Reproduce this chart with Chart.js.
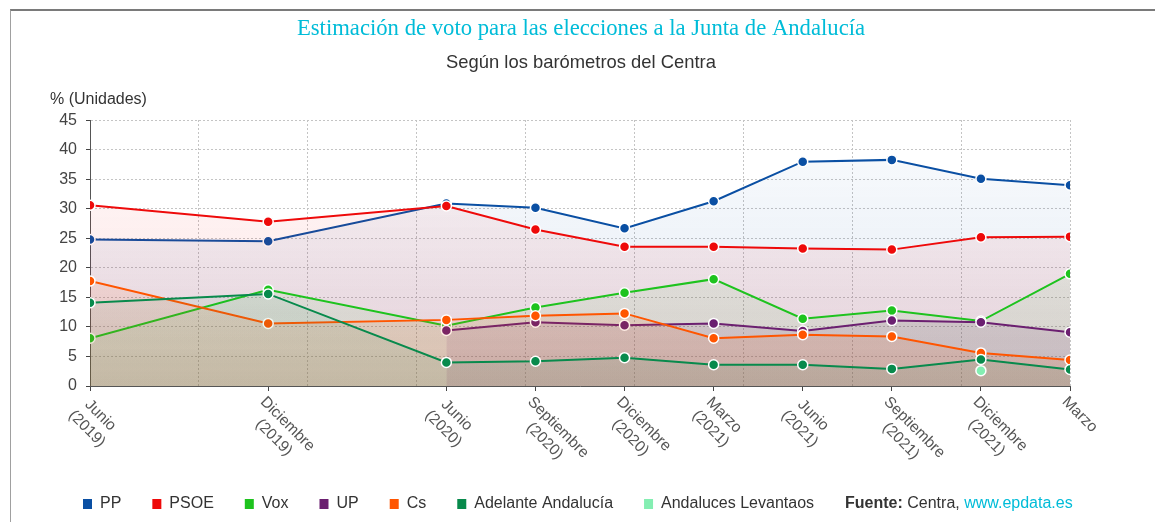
<!DOCTYPE html>
<html lang="es">
<head>
<meta charset="utf-8">
<title>Estimación de voto - Junta de Andalucía</title>
<script src="https://cdn.jsdelivr.net/npm/chart.js@4.4.1/dist/chart.umd.min.js"></script>
<style>
  html, body { margin: 0; padding: 0; background: #fff; overflow: hidden; }
  #marco { position: absolute; left: 10px; top: 9px; width: 1200px; height: 600px;
           border-top: 2px solid #7a7a7a; border-left: 1px solid #a0a0a0; }
  #contenedor { position: absolute; left: 0; top: 0; width: 1155px; height: 522px; }
</style>
</head>
<body>
<div id="marco"></div>
<div id="contenedor"><canvas id="graficoVoto"></canvas></div>
<script>
// Meses transcurridos desde junio de 2019 en cada barómetro
const meses = [0, 6, 12, 15, 18, 21, 24, 27, 30, 33];
const etiquetas = [
    ['Junio', '(2019)'], ['Diciembre', '(2019)'], ['Junio', '(2020)'], ['Septiembre', '(2020)'],
    ['Diciembre', '(2020)'], ['Marzo', '(2021)'], ['Junio', '(2021)'], ['Septiembre', '(2021)'],
    ['Diciembre', '(2021)'], ['Marzo']
];
const marcasY = [0, 5, 10, 15, 20, 25, 30, 35, 40, 45];

// Estimación de voto (%) por partido
const pp      = [24.8, 24.5, 30.9, 30.2, 26.7, 31.3, 38.0, 38.3, 35.1, 34.0];
const psoe    = [30.6, 27.8, 30.5, 26.5, 23.6, 23.6, 23.3, 23.1, 25.2, 25.3];
const vox     = [8.1, 16.3, 10.2, 13.3, 15.8, 18.1, 11.4, 12.8, 11.0, 19.0];
const up      = [null, null, 9.4, 10.8, 10.3, 10.6, 9.3, 11.1, 10.8, 9.1];
const cs      = [17.8, 10.6, 11.2, 11.9, 12.3, 8.1, 8.7, 8.4, 5.6, 4.4];
const adelante = [14.1, 15.6, 4.0, 4.2, 4.8, 3.6, 3.6, 2.9, 4.5, 2.8];
const levantaos = [null, null, null, null, null, null, null, null, 2.6, null];

const fuenteTexto = 'Arial, "Liberation Sans", sans-serif';

// Relleno degradado bajo cada línea (casi transparente arriba)
function degradado(r, g, b, alfa) {
    return function (context) {
        const area = context.chart.chartArea;
        if (!area) return 'transparent';
        const grad = context.chart.ctx.createLinearGradient(0, area.top, 0, area.bottom);
        grad.addColorStop(0, `rgba(${r},${g},${b},0.02)`);
        grad.addColorStop(1, `rgba(${r},${g},${b},${alfa})`);
        return grad;
    };
}

function serie(nombre, valores, color, rgb, orden, alfa) {
    return {
        label: nombre,
        data: meses.map((m, i) => ({ x: m, y: valores[i] })),
        borderColor: color,
        backgroundColor: alfa ? degradado(...rgb, alfa) : 'transparent',
        fill: alfa ? 'origin' : false,
        pointBackgroundColor: color,
        pointBorderColor: '#fff',
        pointBorderWidth: 1.5,
        pointRadius: 5,
        borderWidth: 2,
        order: orden
    };
}

// Etiquetas del eje X giradas 45 grados (como en el original)
const etiquetasEjeX = {
    id: 'etiquetasEjeX',
    afterDraw(chart) {
        const { ctx, scales: { x } } = chart;
        ctx.save();
        ctx.font = '15.5px ' + fuenteTexto;
        ctx.fillStyle = '#555';
        ctx.textBaseline = 'top';
        ctx.textAlign = 'center';
        meses.forEach((m, i) => {
            const lineas = etiquetas[i];
            const ancho = Math.max(...lineas.map(t => ctx.measureText(t).width));
            ctx.save();
            ctx.translate(x.getPixelForValue(m), x.top + 8);
            ctx.rotate(Math.PI / 4);
            lineas.forEach((t, j) => ctx.fillText(t, ancho / 2, j * 19));
            ctx.restore();
        });
        ctx.restore();
    }
};

// Leyenda inferior + fuente, y título del eje Y
const leyendaYFuente = {
    id: 'leyendaYFuente',
    afterDraw(chart) {
        const { ctx, chartArea } = chart;
        ctx.save();
        ctx.font = '16px ' + fuenteTexto;
        ctx.fillStyle = '#333';
        ctx.textBaseline = 'middle';
        ctx.textAlign = 'left';
        ctx.fillText('% (Unidades)', chartArea.left - 40, chartArea.top - 21);

        const y = chart.height - 18;
        let cursor = chartArea.left - 7;
        chart.data.datasets.forEach(ds => {
            ctx.fillStyle = ds.borderColor;
            ctx.fillRect(cursor, y - 5, 9, 10);
            ctx.fillStyle = '#333';
            ctx.fillText(ds.label, cursor + 17, y);
            cursor += 17 + ctx.measureText(ds.label).width + 31;
        });

        ctx.font = 'bold 16px ' + fuenteTexto;
        ctx.fillText('Fuente:', cursor, y);
        cursor += ctx.measureText('Fuente: ').width;
        ctx.font = '16px ' + fuenteTexto;
        ctx.fillText('Centra, ', cursor, y);
        cursor += ctx.measureText('Centra, ').width;
        ctx.fillStyle = '#00bcd8';
        ctx.fillText('www.epdata.es', cursor, y);
        ctx.restore();
    }
};

document.addEventListener('DOMContentLoaded', function () {
    const ctx = document.getElementById('graficoVoto').getContext('2d');

    new Chart(ctx, {
        type: 'line',
        data: {
            datasets: [
                serie('PP', pp, '#0a4fa3', [10, 79, 163], 7, 0.12),
                serie('PSOE', psoe, '#ee0a0a', [238, 10, 10], 6, 0.12),
                serie('Vox', vox, '#1ec31e', [30, 195, 30], 5, 0.09),
                serie('UP', up, '#6b1f70', [107, 31, 112], 4, 0.13),
                serie('Cs', cs, '#ff5500', [255, 85, 0], 3, 0.13),
                serie('Adelante Andalucía', adelante, '#088a4c', [8, 138, 76], 2, 0.09),
                serie('Andaluces Levantaos', levantaos, '#84eeb2', [132, 238, 178], 1, 0)
            ]
        },
        options: {
            responsive: true,
            maintainAspectRatio: false,
            animation: false,
            layout: { padding: { left: 7, right: 0, top: 0, bottom: 46 } },
            plugins: {
                legend: { display: false },
                tooltip: { enabled: false },
                title: {
                    display: true,
                    text: 'Estimación de voto para las elecciones a la Junta de Andalucía',
                    color: '#00bcd8',
                    font: { family: '"Liberation Serif", "Times New Roman", serif', size: 22.7, weight: 'normal' },
                    padding: { top: 15, bottom: 10 }
                },
                subtitle: {
                    display: true,
                    text: 'Según los barómetros del Centra',
                    color: '#333',
                    font: { family: fuenteTexto, size: 18.4 },
                    padding: { top: 0, bottom: 46 }
                }
            },
            scales: {
                x: {
                    type: 'linear',
                    position: 'bottom',
                    min: meses[0],
                    max: meses[meses.length - 1],
                    afterBuildTicks: scale => { scale.ticks = meses.map(v => ({ value: v })); },
                    afterFit: scale => { scale.height = 90; },
                    ticks: { display: false },
                    grid: { drawOnChartArea: false, drawTicks: true, tickLength: 5, tickColor: '#444' },
                    border: { color: '#555', width: 1 }
                },
                // rejilla vertical punteada, repartida en 9 tramos iguales
                rejilla: {
                    type: 'linear',
                    axis: 'x',
                    position: 'top',
                    min: 0,
                    max: 9,
                    ticks: { display: false, stepSize: 1 },
                    grid: { color: '#c4c4c4', drawTicks: false },
                    border: { display: false, dash: [2, 2] }
                },
                y: {
                    min: 0,
                    max: 45,
                    afterBuildTicks: scale => { scale.ticks = marcasY.map(v => ({ value: v })); },
                    afterFit: scale => { scale.width = 83; },
                    ticks: { color: '#444', font: { family: fuenteTexto, size: 16 }, padding: 9 },
                    grid: { color: '#c4c4c4', tickLength: 4, tickColor: '#444' },
                    border: { color: '#555', width: 1, dash: [2, 2] }
                },
                // margen derecho vacío, para que los títulos queden centrados en la imagen
                margenDerecho: {
                    type: 'linear',
                    axis: 'y',
                    position: 'right',
                    ticks: { display: false },
                    grid: { display: false },
                    border: { display: false },
                    afterFit: scale => { scale.width = 85; }
                }
            }
        },
        plugins: [etiquetasEjeX, leyendaYFuente]
    });
});
</script>
</body>
</html>
